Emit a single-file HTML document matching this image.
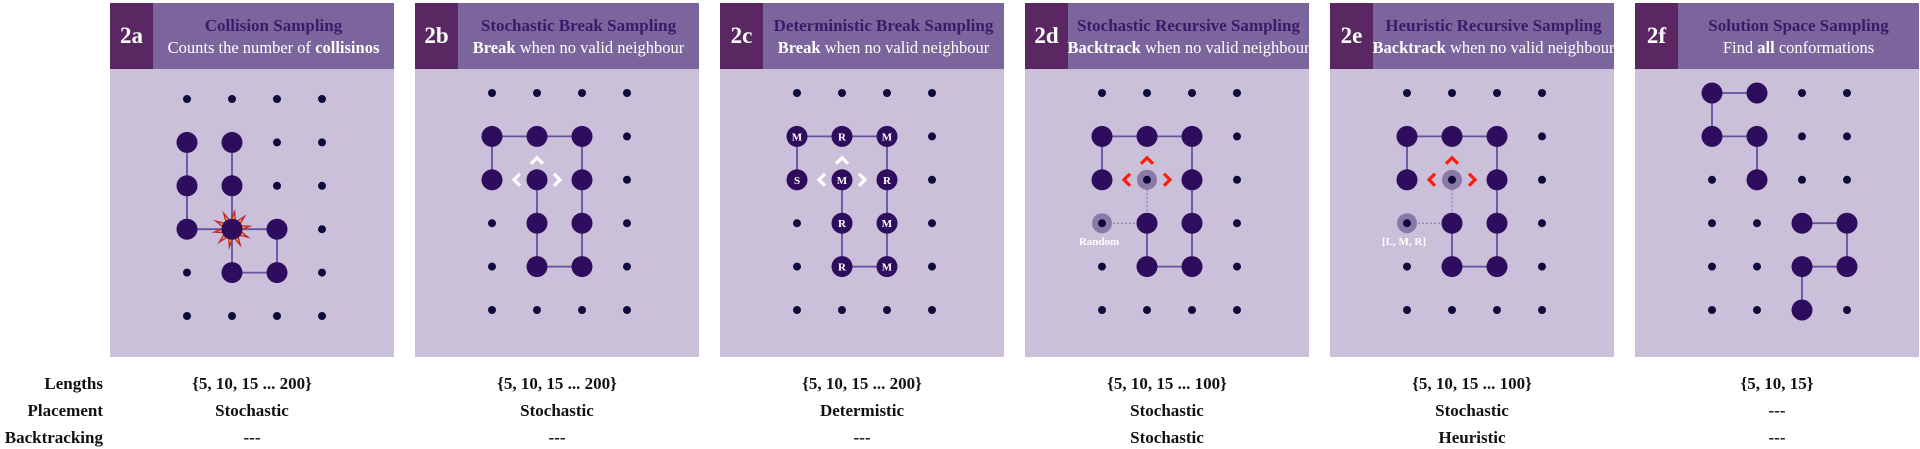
<!DOCTYPE html>
<html><head><meta charset="utf-8">
<style>
html,body{margin:0;padding:0;background:#fff;}
svg{display:block;font-family:"Liberation Serif",serif;}
</style></head>
<body>
<svg id="fig" width="1920" height="449" viewBox="0 0 1920 449" xmlns="http://www.w3.org/2000/svg"></svg>
<script>
const panelIds = ["2a","2b","2c","2d","2e","2f"];
const titles = ["Collision Sampling","Stochastic Break Sampling","Deterministic Break Sampling","Stochastic Recursive Sampling","Heuristic Recursive Sampling","Solution Space Sampling"];
const subtitles = [
  [["Counts the number of ",false],["collisinos",true]],
  [["Break",true],[" when no valid neighbour",false]],
  [["Break",true],[" when no valid neighbour",false]],
  [["Backtrack",true],[" when no valid neighbour",false]],
  [["Backtrack",true],[" when no valid neighbour",false]],
  [["Find ",false],["all",true],[" conformations",false]]
];
const rowLabels = ["Lengths","Placement","Backtracking"];
const lengthsVals = ["{5, 10, 15 ... 200}","{5, 10, 15 ... 200}","{5, 10, 15 ... 200}","{5, 10, 15 ... 100}","{5, 10, 15 ... 100}","{5, 10, 15}"];
const placementVals = ["Stochastic","Stochastic","Determistic","Stochastic","Stochastic","---"];
const backtrackVals = ["---","---","---","Stochastic","Heuristic","---"];
const chains = [
  [[[0,1],[0,2],[0,3],[1,3],[2,3],[2,4],[1,4],[1,3],[1,2],[1,1]]],
  [[[1,2],[1,3],[1,4],[2,4],[2,3],[2,2],[2,1],[1,1],[0,1],[0,2]]],
  [[[1,2],[1,3],[1,4],[2,4],[2,3],[2,2],[2,1],[1,1],[0,1],[0,2]]],
  [[[1,3],[1,4],[2,4],[2,3],[2,2],[2,1],[1,1],[0,1],[0,2]]],
  [[[1,3],[1,4],[2,4],[2,3],[2,2],[2,1],[1,1],[0,1],[0,2]]],
  [[[1,2],[1,1],[0,1],[0,0],[1,0]],[[2,5],[2,4],[3,4],[3,3],[2,3]]]
];
const nodeLetters = [null,null,
  {"0,1":"M","1,1":"R","2,1":"M","0,2":"S","1,2":"M","2,2":"R","1,3":"R","2,3":"M","1,4":"R","2,4":"M"},
  null,null,null];
const collisionCells = [[1,3],null,null,null,null,null];
const chevronCells = [null,[1,2],[1,2],[1,2],[1,2],null];
const chevronColors = [null,"#ffffff","#ffffff","#ff1a0a","#ff1a0a",null];
const fadedCells = [null,null,null,[[1,2],[0,3]],[[1,2],[0,3]],null];
const fadedLabels = [null,null,null,"Random","[L, M, R]",null];

const NS="http://www.w3.org/2000/svg";
const svg=document.getElementById('fig');
function mk(tag,attrs,parent){const e=document.createElementNS(NS,tag);for(const k in attrs)e.setAttribute(k,attrs[k]);(parent||svg).appendChild(e);return e;}

const panelX0=110, panelStep=305, panelW=284;
const px=i=>panelX0+panelStep*i;
const gx=(i,c)=>px(i)+77+45*c;
const gy=(i,r)=>(i===0?99:93)+43.4*r;

rowLabels.forEach((t,k)=>{
  const e=mk('text',{x:103,y:389+27*k,'text-anchor':'end','font-size':17,'font-weight':'bold',fill:'#111'});
  
  
  e.textContent=t;
});

panelIds.forEach((id,i)=>{
  const g=mk('g',{});
  
  
  const x=px(i);
  const body=mk('rect',{x:x,y:3,width:panelW,height:354,fill:'#cbc0d9'},g);
  
  
  const hdr=mk('rect',{x:x,y:3,width:panelW,height:66,fill:'#7c659c'},g);
  
  
  const badge=mk('rect',{x:x,y:3,width:43,height:66,fill:'#5a2762'},g);
  
  
  const bt=mk('text',{x:x+21.5,y:43,'text-anchor':'middle','font-size':23,'font-weight':'bold',fill:'#fff'},g);
  
  
  bt.textContent=id;
  const cx=x+43+(panelW-43)/2;
  const tt=mk('text',{x:cx,y:31,'text-anchor':'middle','font-size':17,'font-weight':'bold',fill:'#3a1a6a'},g);
  
  
  tt.textContent=titles[i];
  const st=mk('text',{x:cx,y:53,'text-anchor':'middle','font-size':16.5,fill:'#fff'},g);
  
  
  subtitles[i].forEach(([s,b])=>{const ts=mk('tspan',{'font-weight':b?'bold':'normal'},st);ts.textContent=s;});

  const occ=new Set();
  chains[i].forEach(ch=>ch.forEach(([c,r])=>occ.add(c+','+r)));
  const faded=fadedCells[i]||[];
  if(faded.length){
    const [a,b]=faded;
    const l1=mk('line',{x1:gx(i,1),y1:gy(i,3),x2:gx(i,a[0]),y2:gy(i,a[1]),stroke:'#8a79a8','stroke-width':1.2,'stroke-dasharray':'2,2'},g);
     
    const l2=mk('line',{x1:gx(i,1),y1:gy(i,3),x2:gx(i,b[0]),y2:gy(i,b[1]),stroke:'#8a79a8','stroke-width':1.2,'stroke-dasharray':'2,2'},g);
     
  }
  chains[i].forEach(ch=>{
    const pts=ch.map(([c,r])=>gx(i,c)+','+gy(i,r)).join(' ');
    const pl=mk('polyline',{points:pts,fill:'none',stroke:'#6650a0','stroke-width':1.8},g);
    
    
  });
  if(collisionCells[i]){
    const [c,r]=collisionCells[i];const sx=gx(i,c),sy=gy(i,r);
    let p1=[],p2=[];
    for(let k=0;k<20;k++){const ang=Math.PI*k/10-Math.PI/2+0.15;const rr=k%2?9:21;p1.push((sx+rr*Math.cos(ang)).toFixed(1)+','+(sy+rr*Math.sin(ang)).toFixed(1));
      const r2=k%2?7:15;p2.push((sx+r2*Math.cos(ang)).toFixed(1)+','+(sy+r2*Math.sin(ang)).toFixed(1));}
    const st1=mk('polygon',{points:p1.join(' '),fill:'#c4232f'},g);
     
    const st2=mk('polygon',{points:p2.join(' '),fill:'#e8a030'},g);
     
  }
  for(let r=0;r<6;r++)for(let c=0;c<4;c++){
    const key=c+','+r;
    const isFaded=faded.some(([fc,fr])=>fc===c&&fr===r);
    if(occ.has(key)){
      const n=mk('circle',{cx:gx(i,c),cy:gy(i,r),r:10.5,fill:'#2e0d5e'},g);
      
      
      const L=nodeLetters[i]&&nodeLetters[i][key];
      if(L){const lt=mk('text',{x:gx(i,c),y:gy(i,r)+4,'text-anchor':'middle','font-size':11,'font-weight':'bold',fill:'#fff'},g);
          lt.textContent=L;}
    } else {
      if(isFaded){
        const f=mk('circle',{cx:gx(i,c),cy:gy(i,r),r:10,fill:'#8a79a8'},g);
         
      }
      const d=mk('circle',{cx:gx(i,c),cy:gy(i,r),r:4,fill:'#0e0a3c'},g);
      
      
    }
  }
  if(fadedLabels[i]){
    const [c,r]=faded[1];
    const fl=mk('text',{x:gx(i,c)-3,y:gy(i,r)+22,'text-anchor':'middle','font-size':11,'font-weight':'bold',fill:'#fff'},g);
     
    fl.textContent=fadedLabels[i];
  }
  if(chevronCells[i]){
    const [c,r]=chevronCells[i];const cx2=gx(i,c),cy2=gy(i,r),col=chevronColors[i];
    const shapes=[[[cx2-6,cy2-16],[cx2,cy2-22],[cx2+6,cy2-16]],[[cx2-17,cy2-6],[cx2-23,cy2],[cx2-17,cy2+6]],[[cx2+17,cy2-6],[cx2+23,cy2],[cx2+17,cy2+6]]];
    shapes.forEach(s=>{
      const ch=mk('polyline',{points:s.map(p=>p.join(',')).join(' '),fill:'none',stroke:col,'stroke-width':3.2},g);
      
      
    });
  }
  const vcx=x+panelW/2;
  [lengthsVals[i],placementVals[i],backtrackVals[i]].forEach((v,k)=>{
    const t=mk('text',{x:vcx,y:389+27*k,'text-anchor':'middle','font-size':17,'font-weight':'bold',fill:'#111'},g);
    
    
    t.textContent=v;
  });
});
</script>
</body></html>
